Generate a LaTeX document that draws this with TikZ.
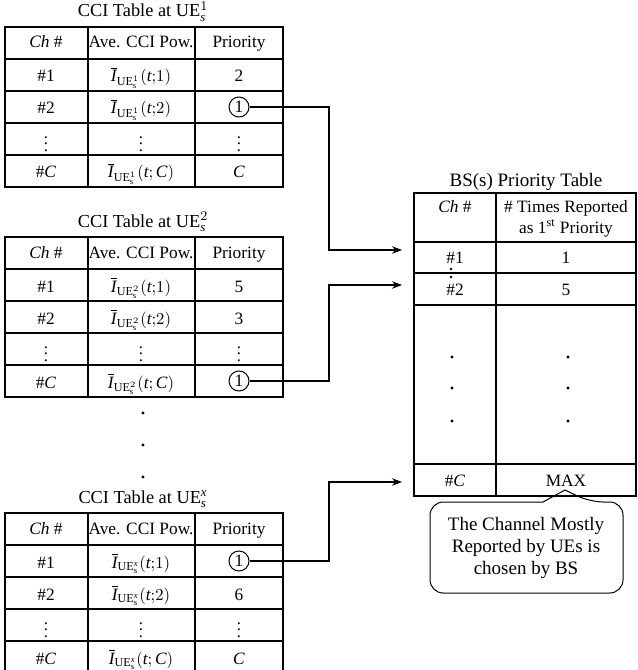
\documentclass[tikz,border=0pt]{standalone}
\usepackage{fontspec}
\setmainfont{Liberation Serif}
\usetikzlibrary{arrows.meta}

\tikzset{
  tabline/.style={line width=0.85pt},
  cell/.style={anchor=base,font=\fontsize{10.4}{12.6}\selectfont},
  ttl/.style={anchor=base,font=\fontsize{11}{13}\selectfont},
  pick/.style={draw,circle,inner sep=0.5pt,minimum size=12pt,line width=0.6pt,
    font=\fontsize{10.4}{12.6}\selectfont},
  link/.style={-{Stealth[length=6pt,width=4.5pt]},line width=0.65pt},
}

% one CCI table: #1 top, #2 name, #3 UE index
\newcommand{\ccitable}[3]{%
  \draw[tabline] (5,#1) rectangle (283,#1+160);
  \foreach \k in {1,...,4} \draw[tabline] (5,#1+32*\k) -- (283,#1+32*\k);
  \foreach \c in {88,195} \draw[tabline] (\c,#1) -- (\c,#1+160);
  \node[ttl] (#2) at (143,#1-10) {CCI Table at UE$_{\mathit{s}}^{#3}$};
  \node[cell] (#2-h1) at (46,#1+21) {\textit{Ch} \#};
  \node[cell] (#2-h2) at (141,#1+21) {Ave. CCI Pow.};
  \node[cell] (#2-h3) at (239,#1+21) {Priority};
  \node[cell] (#2-a1) at (46,#1+55) {\#1};
  \node[cell] (#2-a2) at (46,#1+87) {\#2};
  \node (#2-a3) at (46,#1+112) {$\vdots$};
  \node[cell] (#2-a4) at (46,#1+151) {\#\textit{C}};
  \node[cell] (#2-b1) at (141,#1+55) {$\overline{\mathit{I}}_{\mathrm{UE}_{\mathrm{s}}^{#3}}(\mathit{t}{;}1)$};
  \node[cell] (#2-b2) at (141,#1+87) {$\overline{\mathit{I}}_{\mathrm{UE}_{\mathrm{s}}^{#3}}(\mathit{t}{;}2)$};
  \node (#2-b3) at (141,#1+112) {$\vdots$};
  \node[cell] (#2-b4) at (141,#1+151) {$\overline{\mathit{I}}_{\mathrm{UE}_{\mathrm{s}}^{#3}}(\mathit{t}{;}\,\mathit{C})$};
  \node (#2-c3) at (239,#1+112) {$\vdots$};
}

\begin{document}
\begin{tikzpicture}[x=0.6pt,y=-0.6pt]
  \useasboundingbox (0,0) rectangle (637,670);

  % UE tables
  \ccitable{27}{ta}{1}
  \node[cell] (ta-c1) at (239,82) {2};
  \node[pick] (p1) at (239,107) {1};
  \node[cell] (ta-c4) at (239,178) {\textit{C}};

  \ccitable{237}{tb}{2}
  \node[cell] (tb-c1) at (239,292) {5};
  \node[cell] (tb-c2) at (239,324) {3};
  \node[pick] (p2) at (239,381) {1};

  \foreach \y in {413,445,477} \fill (143,\y) circle (1pt);

  \ccitable{513}{tc}{\mathit{x}}
  \node[pick] (p3) at (239,561) {1};
  \node[cell] (tc-c2) at (239,600) {6};
  \node[cell] (tc-c4) at (239,664) {\textit{C}};

  % BS table
  \draw[tabline] (414,193) rectangle (636,496);
  \foreach \y in {242,273,305,464} \draw[tabline] (414,\y) -- (636,\y);
  \draw[tabline] (496,193) -- (496,496);
  \node[anchor=base,font=\fontsize{11.4}{13}\selectfont] (bs) at (526,186) {BS(s) Priority Table};
  \node[cell] (bs-h1) at (455,212) {\textit{Ch} \#};
  \node[cell,align=center] (bs-h2) at (566,233) {\# Times Reported\\as 1\textsuperscript{st} Priority};
  \node[cell] (bs-a1) at (455,263) {\#1};
  \node[cell] (bs-b1) at (566,263) {1};
  \node[cell] (bs-a2) at (455,295) {\#2};
  \node[cell] (bs-b2) at (566,295) {5};
  \node[cell] (bs-a4) at (455,486) {\#\textit{C}};
  \node[cell] (bs-b4) at (566,486) {MAX};
  \fill (451,269) circle (0.8pt) (451,277) circle (0.8pt);
  \foreach \y in {357,388,421} {
    \fill (452,\y) circle (1pt);
    \fill (568,\y) circle (1pt);
  }

  % callout
  \node[align=center,font=\fontsize{11.4}{13.2}\selectfont] (note) at (526,548)
    {The Channel Mostly\\Reported by UEs is\\chosen by BS};
  \draw[line width=0.6pt] (565,490) -- (543,502) [rounded corners=8pt] -- (430,502)
    -- (430,593) -- (623,593) -- (623,502) -- (590,502) [sharp corners] -- cycle;

  % links to BS table
  \coordinate (jog) at (329,0);
  \coordinate (in1) at (402,250);
  \coordinate (in2) at (402,285);
  \coordinate (inC) at (402,482);
  \draw[link] (p1.east) -- (p1.east -| jog) |- (in1);
  \draw[link] (p2.east) -- (p2.east -| jog) |- (in2);
  \draw[link] (p3.east) -- (p3.east -| jog) |- (inC);
\end{tikzpicture}
\end{document}
